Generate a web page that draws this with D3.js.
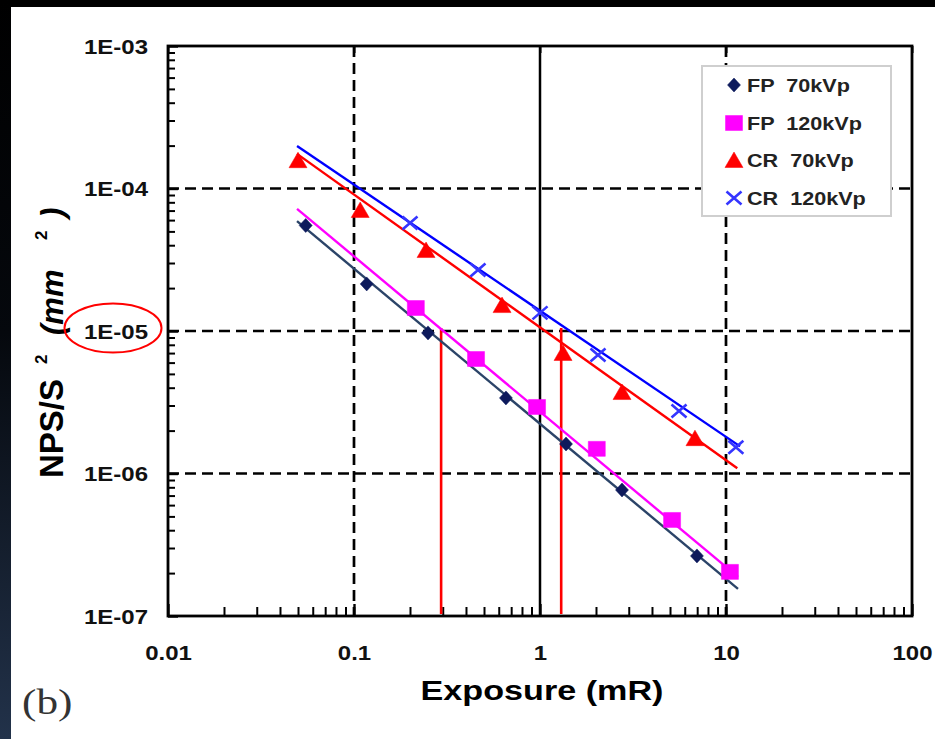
<!DOCTYPE html>
<html><head><meta charset="utf-8">
<script src="https://cdn.jsdelivr.net/npm/d3@7"></script>
<style>body{margin:0;background:#000;} svg{display:block}</style>
</head><body>
<svg id="c" width="935" height="739"></svg>
<script>
const xTickValues=[0.01,0.1,1,10,100];
const xTickLabels=["0.01","0.1","1","10","100"];
const yTickValues=[1e-7,1e-6,1e-5,1e-4,1e-3];
const yTickLabels=["1E-07","1E-06","1E-05","1E-04","1E-03"];
const seriesNames=["FP  70kVp","FP  120kVp","CR  70kVp","CR  120kVp"];
const fp70X=[0.055,0.117,0.25,0.656,1.38,2.76,6.98];
const fp70Y=[5.5e-5,2.14e-5,9.7e-6,3.39e-6,1.61e-6,7.66e-7,2.64e-7];
const fp120X=[0.215,0.453,0.964,2.02,5.13,10.5];
const fp120Y=[1.45e-5,6.36e-6,2.93e-6,1.49e-6,4.72e-7,2.04e-7];
const cr70X=[0.05,0.108,0.244,0.625,1.33,2.76,6.81];
const cr70Y=[1.58e-4,7.07e-5,3.70e-5,1.52e-5,7.01e-6,3.73e-6,1.77e-6];
const cr120X=[0.2,0.464,1.0,2.05,5.59,11.3];
const cr120Y=[5.73e-5,2.68e-5,1.34e-5,6.79e-6,2.75e-6,1.53e-6];
// power-law trend lines (start, end) per series
const fitX=[[0.0494,11.6],[0.0494,11.6],[0.0494,11.5],[0.0494,11.9]];
const fitY=[[5.9e-5,1.55e-7],[7.2e-5,1.88e-7],[1.75e-4,1.09e-6],[1.99e-4,1.55e-6]];
const dashedGridX=[0.1,10];
const solidGridX=[1];
const dashedGridY=[1e-4,1e-5,1e-6];
const markerLinesX=[0.294,1.30];
const markerLineTop=1.05e-5;

const W=935,H=739;
const svg=d3.select("#c");
// background
svg.append("rect").attr("width",W).attr("height",H).attr("fill","#000");
const grad=svg.append("defs").append("linearGradient").attr("id","lg").attr("x1",0).attr("y1",0).attr("x2",0).attr("y2",1);
grad.append("stop").attr("offset","0%").attr("stop-color","#000");
grad.append("stop").attr("offset","45%").attr("stop-color","#05080d");
grad.append("stop").attr("offset","100%").attr("stop-color","#22324a");
svg.append("rect").attr("x",0).attr("y",0).attr("width",11).attr("height",H).attr("fill","url(#lg)");
svg.append("rect").attr("x",11).attr("y",7).attr("width",W-11).attr("height",H-7).attr("fill","#fff");

const L=168,R=912,T=46,B=616;
const x=d3.scaleLog().domain([0.01,100]).range([L,R]);
const y=d3.scaleLog().domain([1e-7,1e-3]).range([B,T]);
const SX=1.2;
const FONT="Liberation Sans, Arial, sans-serif";

// grid lines
const grid=svg.append("g");
grid.selectAll(".gx").data(dashedGridX).join("line")
  .attr("x1",d=>x(d)).attr("x2",d=>x(d)).attr("y1",T).attr("y2",B)
  .attr("stroke","#000").attr("stroke-width",2.7).attr("stroke-dasharray","11,6");
grid.selectAll(".gs").data(solidGridX).join("line")
  .attr("x1",d=>x(d)).attr("x2",d=>x(d)).attr("y1",T).attr("y2",B)
  .attr("stroke","#000").attr("stroke-width",2.5);
grid.selectAll(".gy").data(dashedGridY).join("line")
  .attr("x1",L).attr("x2",R).attr("y1",d=>y(d)).attr("y2",d=>y(d))
  .attr("stroke","#000").attr("stroke-width",2.7).attr("stroke-dasharray","11,6");

// minor ticks
const minorX=[],minorY=[];
for(let e=-2;e<2;e++)for(let m=2;m<10;m++)minorX.push(m*Math.pow(10,e));
for(let e=-7;e<-3;e++)for(let m=2;m<10;m++)minorY.push(m*Math.pow(10,e));

const axB=svg.append("g").attr("transform",`translate(0,${B})`)
  .call(d3.axisBottom(x).tickValues(minorX).tickSize(-9).tickFormat(""));
axB.select(".domain").remove();
axB.selectAll("line").attr("stroke","#000").attr("stroke-width",2);
const axB2=svg.append("g").attr("transform",`translate(0,${B})`)
  .call(d3.axisBottom(x).tickValues(xTickValues).tickSize(-12).tickPadding(0).tickFormat((d,i)=>xTickLabels[i]));
axB2.select(".domain").remove();
axB2.selectAll("line").attr("stroke","#000").attr("stroke-width",2.4);
axB2.selectAll("text").attr("y",44).attr("dy",0).attr("transform",`scale(${SX},1)`)
  .attr("font-family",FONT).attr("font-weight","bold").attr("font-size",20).attr("fill","#111");

const axL=svg.append("g").attr("transform",`translate(${L},0)`)
  .call(d3.axisLeft(y).tickValues(minorY).tickSize(-7).tickFormat(""));
axL.select(".domain").remove();
axL.selectAll("line").attr("stroke","#000").attr("stroke-width",2);
const axL2=svg.append("g").attr("transform",`translate(${L},0)`)
  .call(d3.axisLeft(y).tickValues(yTickValues).tickSize(-10).tickPadding(0).tickFormat((d,i)=>yTickLabels[i]));
axL2.select(".domain").remove();
axL2.selectAll("line").attr("stroke","#000").attr("stroke-width",2.4);
axL2.selectAll("text").attr("x",-20/SX).attr("dy","0.36em").attr("transform",`scale(${SX},1)`)
  .attr("font-family",FONT).attr("font-weight","bold").attr("font-size",20).attr("fill","#111");

const axT=svg.append("g").attr("transform",`translate(0,${T})`)
  .call(d3.axisTop(x).tickValues(xTickValues).tickSize(-7).tickFormat(""));
axT.select(".domain").remove();
axT.selectAll("line").attr("stroke","#000").attr("stroke-width",2);

// frame
svg.append("rect").attr("x",L).attr("y",T).attr("width",R-L).attr("height",B-T)
  .attr("fill","none").attr("stroke","#000").attr("stroke-width",2.8);

// red marker lines
svg.append("g").selectAll("line").data(markerLinesX).join("line")
  .attr("x1",d=>x(d)).attr("x2",d=>x(d)).attr("y1",y(markerLineTop)).attr("y2",B-2)
  .attr("stroke","#ff0000").attr("stroke-width",2.6);

// series
const series=[
 {xs:fp70X,ys:fp70Y,line:"#2b4468",mk:"#0d1a5c",shape:"diamond"},
 {xs:fp120X,ys:fp120Y,line:"#ff00ff",mk:"#ff00ff",shape:"square"},
 {xs:cr70X,ys:cr70Y,line:"#ff0000",mk:"#ff0000",shape:"triangle"},
 {xs:cr120X,ys:cr120Y,line:"#0000ff",mk:"#3535ff",shape:"x"}
];
function markerPath(shape){
  if(shape==="diamond")return "M0,-7L6.5,0L0,7L-6.5,0Z";
  if(shape==="square")return "M-8.5,-7.5H8.5V7.5H-8.5Z";
  if(shape==="triangle")return "M0,-8L9,7.5H-9Z";
  return "M-7.5,-6.5L7.5,6.5M-7.5,6.5L7.5,-6.5";
}
const line=d3.line().x(d=>x(d[0])).y(d=>y(d[1]));
series.forEach((s,i)=>{
  svg.append("path").datum([[fitX[i][0],fitY[i][0]],[fitX[i][1],fitY[i][1]]])
    .attr("d",line).attr("fill","none").attr("stroke",s.line).attr("stroke-width",2.4);
});
series.forEach((s,i)=>{
  const pts=s.xs.map((v,j)=>[v,s.ys[j]]);
  const g=svg.append("g");
  g.selectAll("path").data(pts).join("path")
    .attr("transform",d=>`translate(${x(d[0])},${y(d[1])})`)
    .attr("d",markerPath(s.shape))
    .attr("fill",s.shape==="x"?"none":s.mk)
    .attr("stroke",s.mk).attr("stroke-width",s.shape==="x"?2.6:0.5);
});

// legend
const lg=svg.append("g");
lg.append("rect").attr("x",702).attr("y",66).attr("width",189).attr("height",150)
  .attr("fill","#fff").attr("stroke","#cfcfcf").attr("stroke-width",2);
const rowY=[85,123,160,198];
series.forEach((s,i)=>{
  lg.append("path").attr("transform",`translate(734,${rowY[i]})`).attr("d",markerPath(s.shape))
    .attr("fill",s.shape==="x"?"none":s.mk).attr("stroke",s.mk).attr("stroke-width",s.shape==="x"?2.6:0.5);
  lg.append("g").attr("transform",`translate(747,${rowY[i]+6.5}) scale(1.2,1)`)
    .append("text").text(seriesNames[i]).style("white-space","pre")
    .attr("font-family",FONT).attr("font-weight","bold").attr("font-size",18).attr("fill","#222");
});

// x title
svg.append("g").attr("transform",`translate(542,700) scale(1.22,1)`)
  .append("text").attr("text-anchor","middle").text("Exposure (mR)")
  .attr("font-family",FONT).attr("font-weight","bold").attr("font-size",28).attr("fill","#000");

// y title (rotated)
const yt=svg.append("g").attr("transform",`translate(63,478) rotate(-90)`)
  .attr("font-family",FONT).attr("fill","#000");
yt.append("text").attr("x",0).attr("y",0).attr("font-weight","bold").attr("font-size",33).text("NPS/S");
yt.append("text").attr("x",114).attr("y",-16).attr("font-weight","bold").attr("font-size",17).text("2");
yt.append("text").attr("x",143).attr("y",0).attr("font-style","italic").attr("font-weight","bold").attr("font-size",31).text("(mm");
yt.append("text").attr("x",238).attr("y",-16).attr("font-weight","bold").attr("font-size",17).text("2");
yt.append("text").attr("x",260).attr("y",0).attr("font-style","italic").attr("font-weight","bold").attr("font-size",31).text(")");

// red ellipse around 1E-05
svg.append("ellipse").attr("cx",113).attr("cy",328).attr("rx",48.5).attr("ry",24.5)
  .attr("fill","none").attr("stroke","#ff0000").attr("stroke-width",2);

// (b)
svg.append("g").attr("transform","translate(22,714) scale(1.2,1)")
  .append("text").text("(b)").attr("font-family","Liberation Serif, Times New Roman, serif")
  .attr("font-size",36).attr("fill","#333");
</script>
</body></html>
